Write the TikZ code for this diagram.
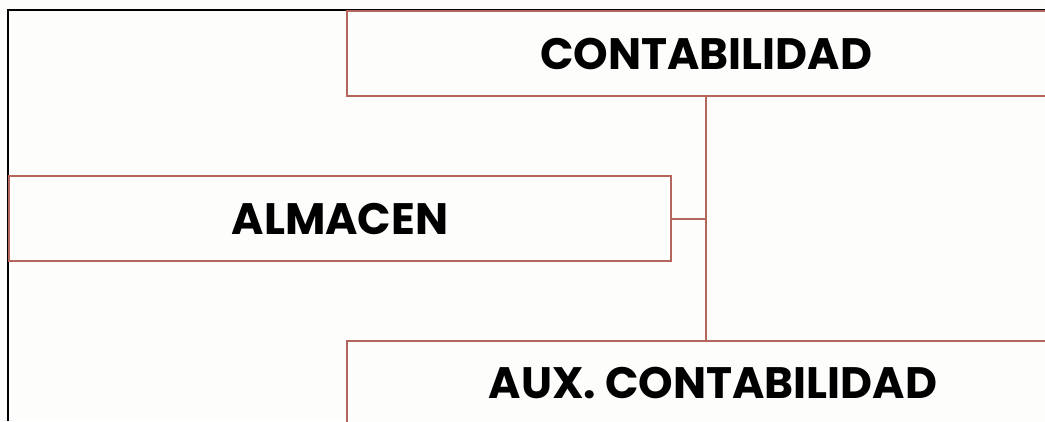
\documentclass[tikz,border=0pt]{standalone}
\usepackage{fontspec}
\setmainfont{Poppins}
\usepackage{xcolor}
\usetikzlibrary{positioning}
\definecolor{boxline}{RGB}{180,102,92}
\definecolor{paper}{RGB}{253,253,251}
\tikzset{>=stealth}
\tikzset{
  unit/.style={draw=boxline, line width=2pt, fill=paper, minimum height=85pt,
    inner sep=0pt, font=\fontsize{44}{44}\selectfont\bfseries},
  link/.style={draw=boxline, line width=2pt}
}

\begin{document}
\begin{tikzpicture}[x=1pt,y=-1pt]
        \useasboundingbox (0,0) rectangle (1045,421);
        \clip (0,0) rectangle (1045,421);
        \fill[paper] (0,0) rectangle (1045,421);
        \draw[black, line width=2pt] (8,421) -- (8,10) -- (1045,10);
        % boxes
        \node[unit, minimum width=718pt] (contab) at (706,53.5) {CONTABILIDAD};
        \node[unit, minimum width=662pt] (almacen) at (340,218.5) {ALMACEN};
        \node[unit, minimum width=732pt] (aux) at (713,383.5) {AUX. CONTABILIDAD};
        % connectors
        \path[link]
          (contab.south) -- (contab.south |- aux.north)
          (almacen.east) -- (almacen.east -| contab.south);
    \end{tikzpicture}
\end{document}
